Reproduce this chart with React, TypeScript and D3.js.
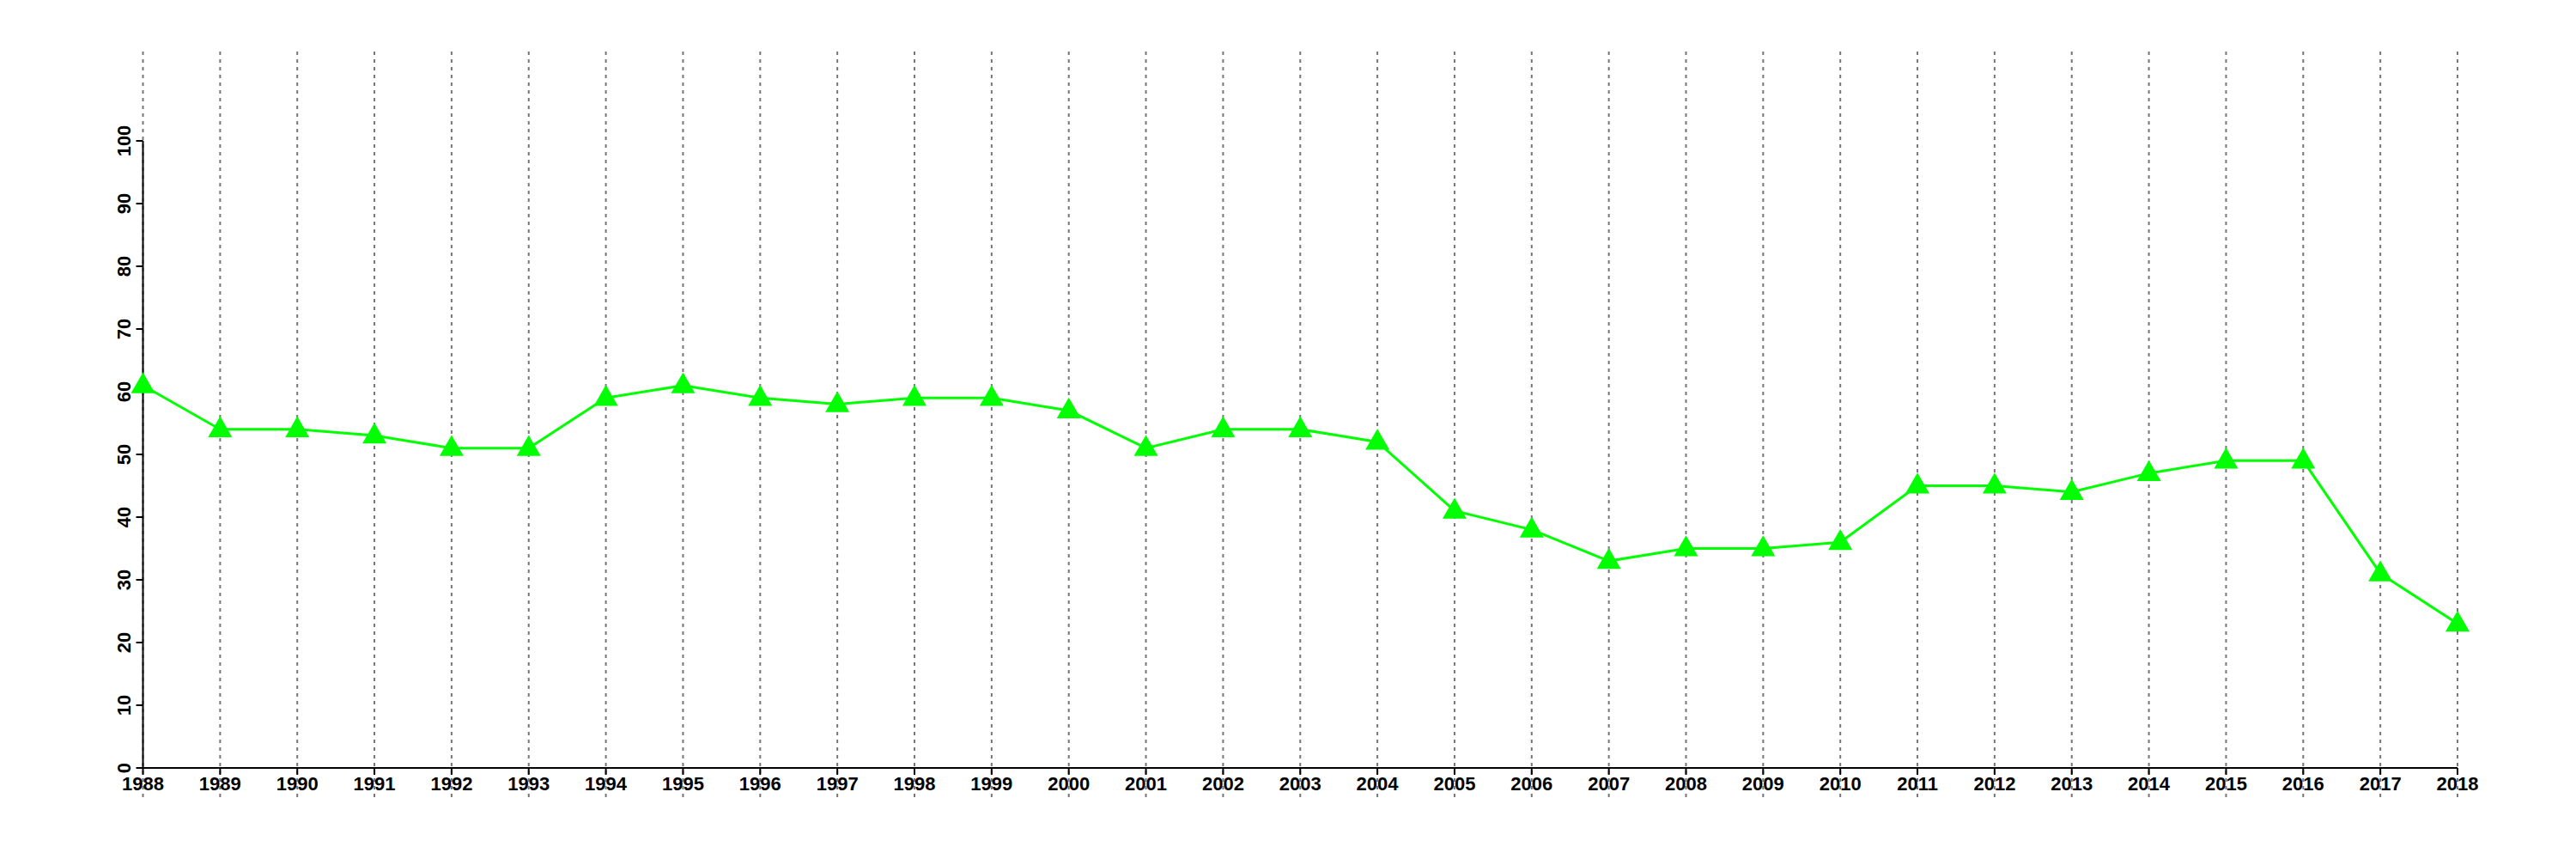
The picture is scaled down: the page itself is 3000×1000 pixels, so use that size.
import React from "react";
import * as d3 from "d3";

const years: number[] = [1988,1989,1990,1991,1992,1993,1994,1995,1996,1997,1998,1999,2000,2001,2002,2003,2004,2005,2006,2007,2008,2009,2010,2011,2012,2013,2014,2015,2016,2017,2018];
const values: number[] = [61,54,54,53,51,51,59,61,59,58,59,59,57,51,54,54,52,41,38,33,35,35,36,45,45,44,47,49,49,31,23];
const yTicks: number[] = [0,10,20,30,40,50,60,70,80,90,100];

const W = 3000, H = 1000;
const x = d3.scaleLinear().domain([1988, 2018]).range([166.5, 2862]);
const y = d3.scaleLinear().domain([0, 100]).range([894, 164]);

export default function App() {
  const line = d3.line<number>().x((_, i) => x(years[i])).y((d) => y(d));
  const tri = d3.symbol().type(d3.symbolTriangle).size(340)();
  const font = "'Liberation Sans', Arial, Helvetica, sans-serif";
  return (
    <svg width={W} height={H} style={{ position: "absolute", left: 0, top: 0, background: "#fff" }}>
      <rect x={0} y={0} width={W} height={H} fill="#fff" />
      {years.map((yr) => (
        <line key={"g" + yr} x1={x(yr)} x2={x(yr)} y1={60} y2={928} stroke="#777" strokeWidth={2} strokeDasharray="4,5" />
      ))}
      {/* axes */}
      <line x1={x(1988)} x2={x(2018)} y1={y(0)} y2={y(0)} stroke="#000" strokeWidth={2} />
      <line x1={x(1988)} x2={x(1988)} y1={y(0)} y2={y(100)} stroke="#000" strokeWidth={2} />
      {yTicks.map((t) => (
        <g key={"y" + t}>
          <line x1={x(1988) - 8} x2={x(1988)} y1={y(t)} y2={y(t)} stroke="#000" strokeWidth={2} />
          <text transform={`translate(${152},${y(t)}) rotate(-90)`} textAnchor="middle" fontFamily={font} fontWeight="bold" fontSize={22} fill="#000">{t}</text>
        </g>
      ))}
      {years.map((yr) => (
        <g key={"x" + yr}>
          <line x1={x(yr)} x2={x(yr)} y1={y(0)} y2={y(0) + 8} stroke="#000" strokeWidth={2} />
          <text x={x(yr)} y={920} textAnchor="middle" fontFamily={font} fontWeight="bold" fontSize={22} fill="#000">{yr}</text>
        </g>
      ))}
      <path d={line(values) || ""} fill="none" stroke="#00ff00" strokeWidth={3} />
      {values.map((v, i) => (
        <path key={"p" + i} d={tri || ""} transform={`translate(${x(years[i])},${y(v) + 1})`} fill="#00ff00" />
      ))}
    </svg>
  );
}
